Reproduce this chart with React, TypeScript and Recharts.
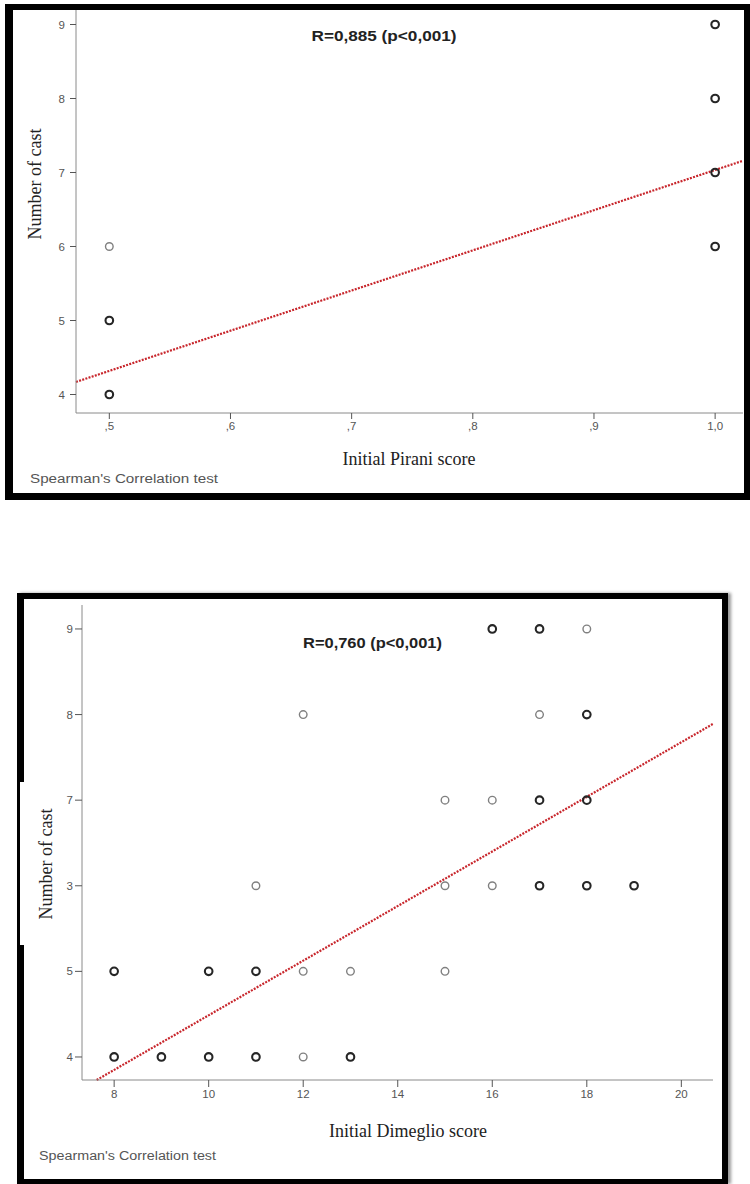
import React from 'react';
import { ScatterChart, Scatter, XAxis, YAxis, ReferenceLine } from 'recharts';

// ---------- Data ----------
// Panel 1: Initial Pirani score vs number of casts
const piraniTicks = [0.5, 0.6, 0.7, 0.8, 0.9, 1.0];
const piraniTickLabels = [',5', ',6', ',7', ',8', ',9', '1,0'];
const piraniCastTicks = [4, 5, 6, 7, 8, 9];
const piraniSingle = [{ score: 0.5, casts: 6 }];
const piraniMulti = [
  { score: 0.5, casts: 4 },
  { score: 0.5, casts: 5 },
  { score: 1.0, casts: 6 },
  { score: 1.0, casts: 7 },
  { score: 1.0, casts: 8 },
  { score: 1.0, casts: 9 },
];
const piraniFit = { intercept: 1.604, slope: 5.43 };

// Panel 2: Initial Dimeglio score vs number of casts
const dimeglioTicks = [8, 10, 12, 14, 16, 18, 20];
const dimeglioTickLabels = ['8', '10', '12', '14', '16', '18', '20'];
const dimeglioCastTicks = [4, 5, 6, 7, 8, 9];
const dimeglioCastTickLabels = ['4', '5', '3', '7', '8', '9'];
const dimeglioSingle = [
  { score: 18, casts: 9 },
  { score: 12, casts: 8 },
  { score: 17, casts: 8 },
  { score: 15, casts: 7 },
  { score: 16, casts: 7 },
  { score: 11, casts: 6 },
  { score: 15, casts: 6 },
  { score: 16, casts: 6 },
  { score: 12, casts: 5 },
  { score: 13, casts: 5 },
  { score: 15, casts: 5 },
  { score: 12, casts: 4 },
];
const dimeglioMulti = [
  { score: 16, casts: 9 },
  { score: 17, casts: 9 },
  { score: 18, casts: 8 },
  { score: 17, casts: 7 },
  { score: 18, casts: 7 },
  { score: 17, casts: 6 },
  { score: 18, casts: 6 },
  { score: 19, casts: 6 },
  { score: 8, casts: 5 },
  { score: 10, casts: 5 },
  { score: 11, casts: 5 },
  { score: 8, casts: 4 },
  { score: 9, casts: 4 },
  { score: 10, casts: 4 },
  { score: 11, casts: 4 },
  { score: 13, casts: 4 },
];
const dimeglioFit = { intercept: 1.297, slope: 0.319 };

// ---------- Styles ----------
const SANS = "'Liberation Sans', Arial, sans-serif";
const SERIF = "'Liberation Serif', 'Times New Roman', serif";
const RED = '#c8262c';

const thinRing = (p: any) => (
  <circle cx={p.cx} cy={p.cy} r={3.8} fill="none" stroke="#808080" strokeWidth={1.4} />
);
const boldRing = (p: any) => (
  <circle cx={p.cx} cy={p.cy} r={3.8} fill="none" stroke="#262626" strokeWidth={2.1} />
);

const fitSegment = (
  fit: { intercept: number; slope: number },
  xDom: [number, number],
  yDom: [number, number]
) => {
  let x0 = xDom[0];
  let y0 = fit.intercept + fit.slope * x0;
  if (y0 < yDom[0]) {
    x0 = (yDom[0] - fit.intercept) / fit.slope;
    y0 = yDom[0];
  }
  const x1 = xDom[1];
  const y1 = fit.intercept + fit.slope * x1;
  return [
    { x: x0, y: y0 },
    { x: x1, y: y1 },
  ];
};

const tickStyle = { fill: '#555', fontSize: 11.5, fontFamily: SANS };

const PIRANI_X: [number, number] = [0.4725, 1.023];
const PIRANI_Y: [number, number] = [3.75, 9.196];
const DIM_X: [number, number] = [7.32, 20.67];
const DIM_Y: [number, number] = [3.731, 9.28];

export default function App() {
  return (
    <div
      style={{
        position: 'absolute',
        left: 0,
        top: 0,
        width: 750,
        height: 1184,
        background: '#fff',
        overflow: 'hidden',
      }}
    >
      {/* Panel frames */}
      <div
        style={{
          position: 'absolute',
          left: 5,
          top: 4,
          width: 745,
          height: 496,
          boxSizing: 'border-box',
          borderStyle: 'solid',
          borderColor: '#000',
          borderWidth: '6px 6px 7px 8px',
        }}
      />
      <div
        style={{
          position: 'absolute',
          left: 17,
          top: 593,
          width: 711,
          height: 591,
          boxSizing: 'border-box',
          borderStyle: 'solid',
          borderColor: '#000',
          borderWidth: '6px 6px 5px 7px',
          boxShadow: '3px 0 3px #999',
        }}
      />
      {/* white patch over the left frame of panel 2 (pasted label area) */}
      <div
        style={{
          position: 'absolute',
          left: 20,
          top: 782,
          width: 5,
          height: 163,
          background: '#fff',
        }}
      />

      {/* Chart 1 */}
      <div style={{ position: 'absolute', left: 0, top: 0 }}>
        <ScatterChart width={750} height={500} margin={{ top: 10, right: 7, bottom: 57, left: 0 }}>
          <XAxis
            type="number"
            dataKey="score"
            domain={PIRANI_X}
            allowDataOverflow
            ticks={piraniTicks}
            interval={0}
            tickFormatter={(_v: number, i: number) => piraniTickLabels[i]}
            height={30}
            tickSize={6}
            tickMargin={3}
            tick={tickStyle}
            axisLine={{ stroke: '#8a8a8a' }}
            tickLine={{ stroke: '#555' }}
          />
          <YAxis
            type="number"
            dataKey="casts"
            domain={PIRANI_Y}
            allowDataOverflow
            ticks={piraniCastTicks}
            interval={0}
            width={76}
            tickSize={6}
            tickMargin={5}
            tick={tickStyle}
            axisLine={{ stroke: '#8a8a8a' }}
            tickLine={{ stroke: '#555' }}
          />
          <ReferenceLine
            segment={fitSegment(piraniFit, PIRANI_X, PIRANI_Y)}
            stroke={RED}
            strokeWidth={2.2}
            strokeDasharray="2 1.3"
            ifOverflow="visible"
          />
          <Scatter data={piraniSingle} shape={thinRing} isAnimationActive={false} />
          <Scatter data={piraniMulti} shape={boldRing} isAnimationActive={false} />
        </ScatterChart>
      </div>

      {/* Chart 2 */}
      <div style={{ position: 'absolute', left: 0, top: 590 }}>
        <ScatterChart width={750} height={594} margin={{ top: 15, right: 37, bottom: 74, left: 0 }}>
          <XAxis
            type="number"
            dataKey="score"
            domain={DIM_X}
            allowDataOverflow
            ticks={dimeglioTicks}
            interval={0}
            tickFormatter={(_v: number, i: number) => dimeglioTickLabels[i]}
            height={30}
            tickSize={7}
            tickMargin={3}
            tick={tickStyle}
            axisLine={{ stroke: '#8a8a8a' }}
            tickLine={{ stroke: '#555' }}
          />
          <YAxis
            type="number"
            dataKey="casts"
            domain={DIM_Y}
            allowDataOverflow
            ticks={dimeglioCastTicks}
            interval={0}
            tickFormatter={(_v: number, i: number) => dimeglioCastTickLabels[i]}
            width={82}
            tickSize={7}
            tickMargin={2}
            tick={tickStyle}
            axisLine={{ stroke: '#8a8a8a' }}
            tickLine={{ stroke: '#555' }}
          />
          <ReferenceLine
            segment={fitSegment(dimeglioFit, DIM_X, DIM_Y)}
            stroke={RED}
            strokeWidth={2.2}
            strokeDasharray="2 1.3"
            ifOverflow="visible"
          />
          <Scatter data={dimeglioSingle} shape={thinRing} isAnimationActive={false} />
          <Scatter data={dimeglioMulti} shape={boldRing} isAnimationActive={false} />
        </ScatterChart>
      </div>

      {/* Text overlay */}
      <svg
        width={750}
        height={1184}
        style={{ position: 'absolute', left: 0, top: 0, pointerEvents: 'none' }}
      >
        {/* Panel 1 */}
        <text
          x={384}
          y={41}
          textAnchor="middle"
          fontFamily={SANS}
          fontWeight="bold"
          fontSize={14}
          fill="#222"
          textLength={145}
          lengthAdjust="spacingAndGlyphs"
        >
          R=0,885 (p&lt;0,001)
        </text>
        <text x={409} y={465} textAnchor="middle" fontFamily={SERIF} fontSize={18} fill="#222">
          Initial Pirani score
        </text>
        <text
          transform="translate(41,184) rotate(-90)"
          textAnchor="middle"
          fontFamily={SERIF}
          fontSize={18}
          fill="#222"
        >
          Number of cast
        </text>
        <text
          x={30}
          y={483}
          fontFamily={SANS}
          fontSize={12.5}
          fill="#555"
          textLength={188}
          lengthAdjust="spacingAndGlyphs"
        >
          Spearman's Correlation test
        </text>

        {/* Panel 2 */}
        <text
          x={372.5}
          y={648}
          textAnchor="middle"
          fontFamily={SANS}
          fontWeight="bold"
          fontSize={14}
          fill="#222"
          textLength={139}
          lengthAdjust="spacingAndGlyphs"
        >
          R=0,760 (p&lt;0,001)
        </text>
        <text x={408} y={1137} textAnchor="middle" fontFamily={SERIF} fontSize={18} fill="#222">
          Initial Dimeglio score
        </text>
        <text
          transform="translate(52,864) rotate(-90)"
          textAnchor="middle"
          fontFamily={SERIF}
          fontSize={18}
          fill="#222"
        >
          Number of cast
        </text>
        <text
          x={39}
          y={1160}
          fontFamily={SANS}
          fontSize={12}
          fill="#555"
          textLength={177}
          lengthAdjust="spacingAndGlyphs"
        >
          Spearman's Correlation test
        </text>
      </svg>
    </div>
  );
}
